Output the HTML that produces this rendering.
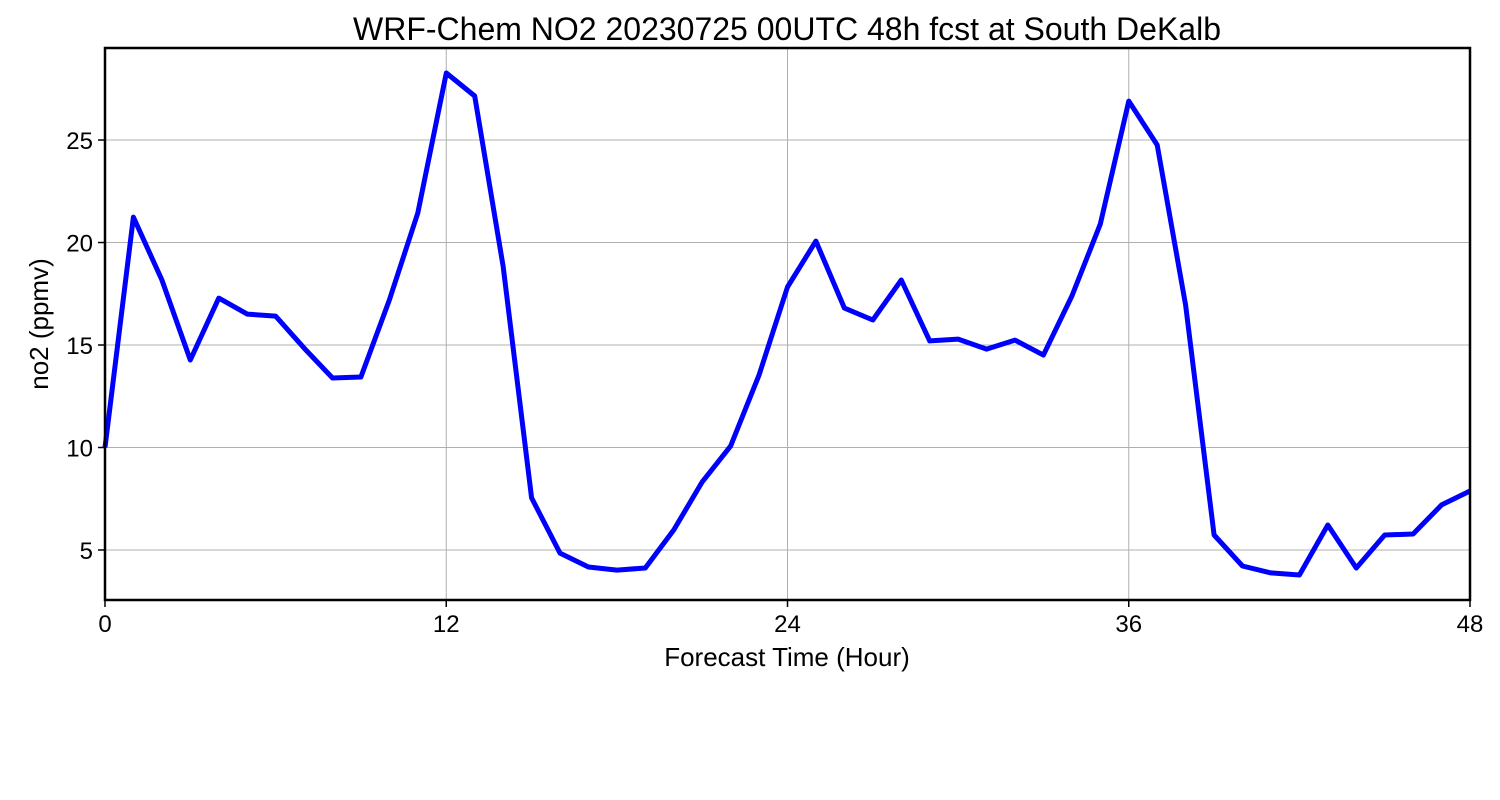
<!DOCTYPE html>
<html><head><meta charset="utf-8"><style>
body{margin:0;background:#fff;}
svg{display:block;font-family:"Liberation Sans","DejaVu Sans",sans-serif;}
</style></head><body>
<svg id="chart" width="1500" height="800">
<rect width="1500" height="800" fill="#fff"/>
<text x="787" y="40" font-size="32" text-anchor="middle">WRF-Chem NO2  20230725 00UTC 48h fcst at South DeKalb</text>
<g id="grid"></g>
<g id="ticks"></g>
<path id="line" fill="none" stroke="#0000ff" stroke-width="5" stroke-linejoin="round"/>
<rect x="105" y="48" width="1365" height="552" fill="none" stroke="#000" stroke-width="2.5"/>
<text x="787" y="666" font-size="26" text-anchor="middle">Forecast Time (Hour)</text>
<text transform="translate(48,324) rotate(-90)" font-size="26" text-anchor="middle">no2  (ppmv)</text>
</svg>
<script>
const hours = [0,1,2,3,4,5,6,7,8,9,10,11,12,13,14,15,16,17,18,19,20,21,22,23,24,25,26,27,28,29,30,31,32,33,34,35,36,37,38,39,40,41,42,43,44,45,46,47,48];
const no2 = [10.0,21.24,18.17,14.27,17.29,16.51,16.41,14.85,13.39,13.44,17.2,21.44,28.27,27.15,18.85,7.54,4.85,4.17,4.02,4.12,5.98,8.32,10.07,13.54,17.83,20.07,16.8,16.22,18.17,15.2,15.29,14.8,15.24,14.51,17.39,20.9,26.9,24.76,16.95,5.73,4.22,3.88,3.78,6.22,4.12,5.73,5.78,7.2,7.88];
const xTicks = [0,12,24,36,48];
const yTicks = [5,10,15,20,25];
const xMin=0,xMax=48,yMin=2.56,yMax=29.49;
const L=105,R=1470,T=48,B=600;
function xs(v){return L+(v-xMin)/(xMax-xMin)*(R-L);}
function ys(v){return B-(v-yMin)/(yMax-yMin)*(B-T);}
const NS="http://www.w3.org/2000/svg";
const grid=document.getElementById('grid'),ticks=document.getElementById('ticks');
function mk(tag,attrs,parent){const e=document.createElementNS(NS,tag);for(const k in attrs)e.setAttribute(k,attrs[k]);parent.appendChild(e);return e;}
xTicks.forEach(t=>{
  const x=xs(t);
  const g=mk('line',{x1:x,x2:x,y1:T,y2:B,stroke:'#b0b0b0','stroke-width':1},grid);
  
  
  const tk=mk('line',{x1:x,x2:x,y1:B,y2:B+7,stroke:'#000','stroke-width':1.5},ticks);
  
  
  const tx=mk('text',{x:x,y:B+32,'font-size':24,'text-anchor':'middle'},ticks);
  tx.textContent=t;
  
  
});
yTicks.forEach(t=>{
  const y=ys(t);
  const g=mk('line',{x1:L,x2:R,y1:y,y2:y,stroke:'#b0b0b0','stroke-width':1},grid);
  
  
  const tk=mk('line',{x1:L-7,x2:L,y1:y,y2:y,stroke:'#000','stroke-width':1.5},ticks);
  
  
  const tx=mk('text',{x:L-12,y:y+9,'font-size':24,'text-anchor':'end'},ticks);
  tx.textContent=t;
  
  
});
document.getElementById('line').setAttribute('d',hours.map((h,i)=>(i?'L':'M')+xs(h).toFixed(1)+','+ys(no2[i]).toFixed(1)).join(''));
</script>
</body></html>
